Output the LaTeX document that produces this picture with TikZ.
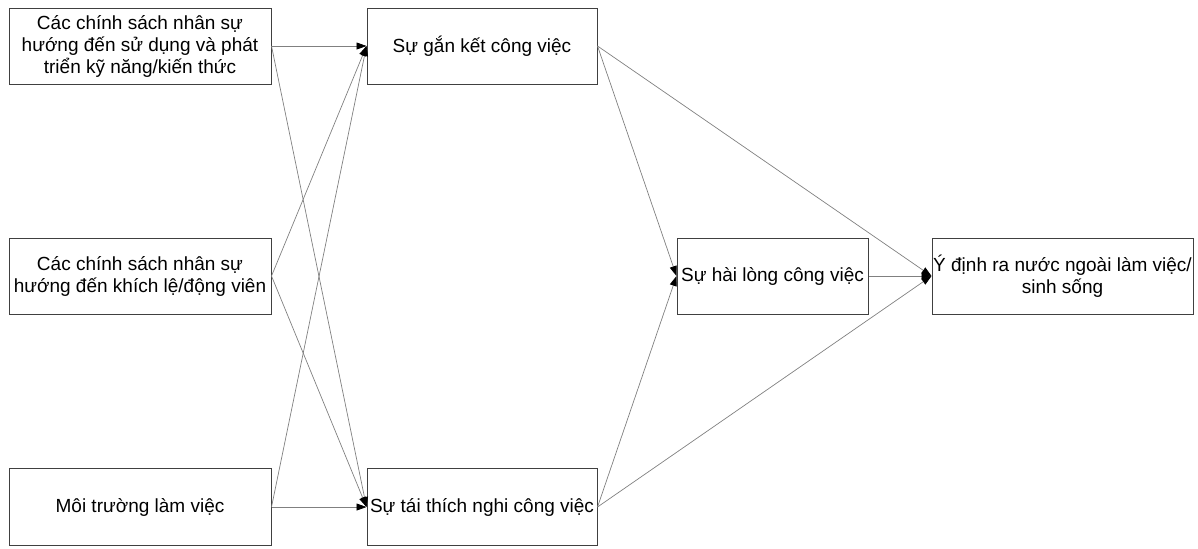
\documentclass[tikz,border=0pt]{standalone}
\usepackage{fontspec}
\setmainfont{Liberation Sans}
\usepackage{tikz}
\usetikzlibrary{arrows.meta,positioning}
\tikzstyle{factor}=[draw=black!75, rectangle, line width=0.5pt, inner sep=0.5pt, align=center, minimum height=38pt]
\tikzstyle{link}=[draw=black!50, line width=0.35pt]

\begin{document}
\begin{tikzpicture}[x=0.5pt, y=-0.5pt, font=\fontsize{9.5}{11}\selectfont, >={Triangle[length=5pt,width=3.5pt,color=black]}]
    \useasboundingbox (0,0) rectangle (1198,548);
    % Place the factors
    \node[factor, minimum width=131pt] (kynang) at (140,46) {Các chính sách nhân sự\\hướng đến sử dụng và phát\\triển kỹ năng/kiến thức};
    \node[factor, minimum width=131pt] (donglucl) at (140,276) {Các chính sách nhân sự\\hướng đến khích lệ/động viên};
    \node[factor, minimum width=131pt, minimum height=38.5pt] (moitruong) at (140,507) {Môi trường làm việc};
    \node[factor, minimum width=115pt] (gianket) at (482,46) {Sự gắn kết công việc};
    \node[factor, minimum width=115pt, minimum height=38.5pt] (thichnghi) at (482,507) {Sự tái thích nghi công việc};
    \node[factor, minimum width=95.5pt] (hailong) at (772.5,276) {Sự hài lòng công việc};
    \node[factor, minimum width=130.5pt] (ydinh) at (1062.5,276) {Ý định ra nước ngoài làm việc/\\sinh sống};

     \path[->] (kynang.east) edge[link] (gianket.west);
     \path[->] (kynang.east) edge[link] (thichnghi.west);
     \path[->] (donglucl.east) edge[link] (gianket.west);
     \path[->] (donglucl.east) edge[link] (thichnghi.west);
     \path[->] (moitruong.east) edge[link] (gianket.west);
     \path[->] (moitruong.east) edge[link] (thichnghi.west);

     \path[->] (gianket.east) edge[link] (hailong.west);
     \path[->] (gianket.east) edge[link] (ydinh.west);
     \path[->] (thichnghi.east) edge[link] (hailong.west);
     \path[->] (thichnghi.east) edge[link] (ydinh.west);
     \path[->] (hailong.east) edge[link] (ydinh.west);

  \end{tikzpicture}
\end{document}
